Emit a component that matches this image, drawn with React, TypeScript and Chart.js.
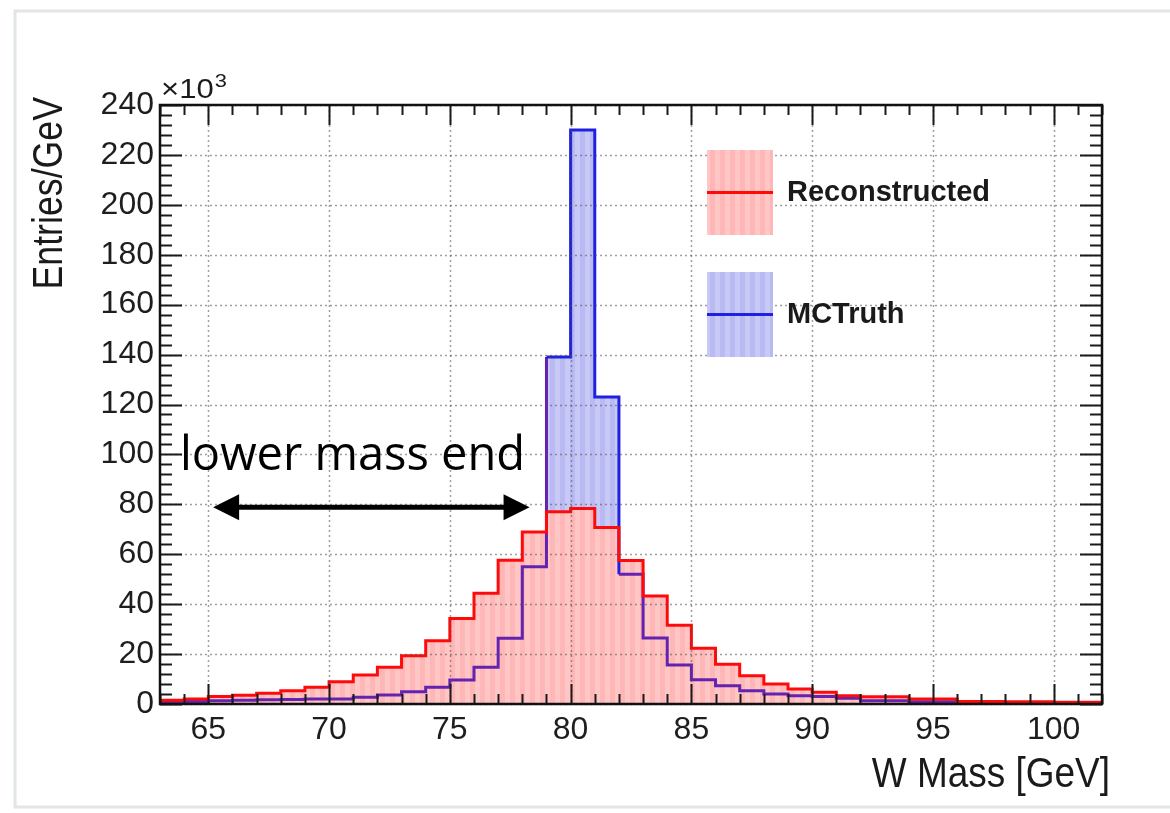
import React, { useEffect, useRef } from "react";
import { Chart, registerables } from "chart.js";

Chart.register(...registerables);

// Bin low edges in GeV (1 GeV bins), last entry is the upper edge of the last bin
const binEdges = [
  63, 64, 65, 66, 67, 68, 69, 70, 71, 72, 73, 74, 75, 76, 77, 78, 79, 80, 81, 82,
  83, 84, 85, 86, 87, 88, 89, 90, 91, 92, 93, 94, 95, 96, 97, 98, 99, 100, 101, 102,
];

// Entries/GeV in units of 10^3
const reconstructed = [
  1.5, 2, 3, 3.5, 4.3, 5.3, 6.7, 8.9, 11.6, 14.7, 19.3, 25.3, 34.3, 44.4, 57.6, 68.9,
  77, 78.3, 70.7, 57.5, 43.3, 31.6, 22.3, 15.9, 11.3, 8, 6, 4.7, 3.3, 2.9, 2.9, 2, 2,
  1, 1, 0.9, 0.9, 0.7, 0.7,
];

const mcTruth = [
  0.8, 1, 1.3, 1.5, 1.7, 1.8, 2, 2, 2.7, 3.6, 4.9, 6.7, 9.6, 14.7, 26.3, 55, 139, 230,
  123, 52, 26.4, 15.6, 9.7, 7.3, 5.3, 4, 3.3, 3, 2.3, 1.3, 1.3, 0.9, 0.9, 0.4, 0.4,
  0.4, 0.4, 0, 0,
];

const xTickValues = [65, 70, 75, 80, 85, 90, 95, 100];
const yTickValues = [0, 20, 40, 60, 80, 100, 120, 140, 160, 180, 200, 220, 240];

const seriesNames = ["Reconstructed", "MCTruth"];
const xTitle = "W Mass [GeV]";
const yTitle = "Entries/GeV";
const annotationText = "lower mass end";
const arrowFrom = [65.2, 78.8];
const arrowTo = [78.3, 78.8];

const RED = "#ff0a0a";
const BLUE = "#2020e0";
const PURPLE = "#6422b0";
const SANS = "'Liberation Sans', Arial, Helvetica, sans-serif";

function stepPoints(values: number[]) {
  const pts = values.map((v, i) => ({ x: binEdges[i], y: v }));
  pts.push({ x: binEdges[binEdges.length - 1], y: values[values.length - 1] });
  return pts;
}

function makeStripes(c1: string, c2: string, period: number) {
  const cv = document.createElement("canvas");
  cv.width = period;
  cv.height = 4;
  const g = cv.getContext("2d")!;
  g.fillStyle = c1;
  g.fillRect(0, 0, period, 4);
  g.fillStyle = c2;
  g.fillRect(0, 0, Math.round(period / 2), 4);
  return g.createPattern(cv, "repeat")!;
}

export default function App() {
  const ref = useRef<HTMLCanvasElement | null>(null);

  useEffect(() => {
    const canvas = ref.current;
    if (!canvas) return;
    const redPattern = makeStripes("#ffc6c6", "#ffb6b6", 10);
    const bluePattern = makeStripes("#c9c9f7", "#babaf3", 10);

    const decor = {
      id: "rootStyle",
      beforeDraw(chart: any) {
        const ctx = chart.ctx;
        ctx.save();
        ctx.fillStyle = "#ffffff";
        ctx.fillRect(0, 0, chart.width, chart.height);
        ctx.strokeStyle = "#e2e6e6";
        ctx.lineWidth = 3;
        ctx.strokeRect(15, 11, chart.width + 20, 796);
        ctx.restore();
      },
      afterDatasetsDraw(chart: any) {
        const ctx = chart.ctx;
        const a = chart.chartArea;
        const xs = chart.scales.x;
        const ys = chart.scales.y;
        ctx.save();
        // grid
        ctx.setLineDash([2, 3]);
        ctx.strokeStyle = "rgba(80,80,80,0.55)";
        ctx.lineWidth = 1.5;
        for (const v of xTickValues) {
          const px = Math.round(xs.getPixelForValue(v)) + 0.5;
          ctx.beginPath();
          ctx.moveTo(px, a.top);
          ctx.lineTo(px, a.bottom);
          ctx.stroke();
        }
        for (const v of yTickValues) {
          const py = Math.round(ys.getPixelForValue(v)) + 0.5;
          ctx.beginPath();
          ctx.moveTo(a.left, py);
          ctx.lineTo(a.right, py);
          ctx.stroke();
        }
        ctx.setLineDash([]);
        // ticks
        ctx.strokeStyle = "#1a1a1a";
        ctx.lineWidth = 2;
        const xMin = binEdges[0];
        const xMax = binEdges[binEdges.length - 1];
        for (let v = xMin; v <= xMax; v++) {
          const px = Math.round(xs.getPixelForValue(v)) + 0.5;
          const len = v % 5 === 0 ? 20 : 10;
          ctx.beginPath();
          ctx.moveTo(px, a.bottom);
          ctx.lineTo(px, a.bottom - len);
          ctx.moveTo(px, a.top);
          ctx.lineTo(px, a.top + len);
          ctx.stroke();
        }
        for (let v = 0; v <= 240; v += 4) {
          const py = Math.round(ys.getPixelForValue(v)) + 0.5;
          const len = v % 20 === 0 ? 22 : 12;
          ctx.beginPath();
          ctx.moveTo(a.left, py);
          ctx.lineTo(a.left + len, py);
          ctx.moveTo(a.right, py);
          ctx.lineTo(a.right - len, py);
          ctx.stroke();
        }
        // frame
        ctx.lineWidth = 2.5;
        ctx.strokeStyle = "#111";
        ctx.strokeRect(a.left, a.top, a.right - a.left, a.bottom - a.top);
        ctx.restore();
      },
      afterDraw(chart: any) {
        const ctx = chart.ctx;
        const a = chart.chartArea;
        const xs = chart.scales.x;
        const ys = chart.scales.y;
        ctx.save();
        ctx.fillStyle = "#1a1a1a";
        // y title
        ctx.save();
        ctx.translate(62, a.top - 8);
        ctx.rotate(-Math.PI / 2);
        ctx.font = `42px ${SANS}`;
        ctx.textAlign = "right";
        ctx.textBaseline = "alphabetic";
        ctx.scale(0.85, 1);
        ctx.fillText(yTitle, 0, 0);
        ctx.restore();
        // x title
        ctx.save();
        ctx.translate(a.right + 8, 787);
        ctx.font = `42px ${SANS}`;
        ctx.textAlign = "right";
        ctx.textBaseline = "alphabetic";
        ctx.scale(0.88, 1);
        ctx.fillText(xTitle, 0, 0);
        ctx.restore();
        // x10^3
        ctx.save();
        ctx.translate(a.left + 1, a.top - 7);
        ctx.scale(1.15, 1);
        ctx.font = `27px ${SANS}`;
        ctx.textAlign = "left";
        ctx.fillText("\u00d710", 0, 0);
        const w = ctx.measureText("\u00d710").width;
        ctx.font = `19px ${SANS}`;
        ctx.fillText("3", w + 1, -11);
        ctx.restore();
        // legend
        const entries = [
          { name: seriesNames[0], pat: redPattern, col: RED, top: 150 },
          { name: seriesNames[1], pat: bluePattern, col: BLUE, top: 272 },
        ];
        for (const e of entries) {
          ctx.fillStyle = e.pat;
          ctx.fillRect(707, e.top, 66, 85);
          ctx.strokeStyle = e.col;
          ctx.lineWidth = 3;
          ctx.beginPath();
          ctx.moveTo(707, e.top + 42.5);
          ctx.lineTo(773, e.top + 42.5);
          ctx.stroke();
          ctx.fillStyle = "#1a1a1a";
          ctx.font = `bold 29px ${SANS}`;
          ctx.textAlign = "left";
          ctx.textBaseline = "middle";
          ctx.fillText(e.name, 787, e.top + 43);
        }
        // annotation text
        ctx.save();
        ctx.font = `48px 'Open Sans', 'Noto Sans', sans-serif`;
        ctx.textAlign = "left";
        ctx.textBaseline = "alphabetic";
        const tw = ctx.measureText(annotationText).width;
        ctx.translate(180, 470);
        ctx.scale(345 / tw, 1);
        ctx.fillStyle = "#000";
        ctx.fillText(annotationText, 0, 0);
        ctx.restore();
        // arrow
        const x1 = xs.getPixelForValue(arrowFrom[0]);
        const x2 = xs.getPixelForValue(arrowTo[0]);
        const yA = ys.getPixelForValue(arrowFrom[1]);
        ctx.strokeStyle = "#000";
        ctx.fillStyle = "#000";
        ctx.lineWidth = 5;
        ctx.beginPath();
        ctx.moveTo(x1 + 20, yA);
        ctx.lineTo(x2 - 20, yA);
        ctx.stroke();
        ctx.beginPath();
        ctx.moveTo(x1, yA);
        ctx.lineTo(x1 + 26, yA - 13);
        ctx.lineTo(x1 + 26, yA + 13);
        ctx.closePath();
        ctx.fill();
        ctx.beginPath();
        ctx.moveTo(x2, yA);
        ctx.lineTo(x2 - 26, yA - 13);
        ctx.lineTo(x2 - 26, yA + 13);
        ctx.closePath();
        ctx.fill();
        ctx.restore();
      },
    };

    const redPts = stepPoints(reconstructed);
    const bluePts = stepPoints(mcTruth);

    const chart = new Chart(canvas, {
      type: "line",
      data: {
        datasets: [
          {
            label: seriesNames[0] + " fill",
            data: redPts,
            stepped: true,
            fill: "origin",
            backgroundColor: redPattern,
            borderWidth: 0,
            pointRadius: 0,
            order: 3,
          } as any,
          {
            label: seriesNames[1] + " fill",
            data: bluePts,
            stepped: true,
            fill: "origin",
            backgroundColor: bluePattern,
            borderWidth: 0,
            pointRadius: 0,
            order: 4,
          },
          {
            label: seriesNames[1],
            data: bluePts,
            stepped: true,
            fill: false,
            borderColor: BLUE,
            borderWidth: 3,
            pointRadius: 0,
            order: 2,
            segment: {
              borderColor: (c: any) =>
                mcTruth[c.p0DataIndex] > reconstructed[c.p0DataIndex] ? BLUE : PURPLE,
            },
          },
          {
            label: seriesNames[0],
            data: redPts,
            stepped: true,
            fill: false,
            borderColor: RED,
            borderWidth: 3,
            pointRadius: 0,
            order: 1,
          },
        ],
      },
      options: {
        animation: false,
        responsive: false,
        layout: { padding: { top: 105, right: 68, left: 0, bottom: 0 } },
        plugins: { legend: { display: false }, tooltip: { enabled: false } },
        scales: {
          x: {
            type: "linear",
            min: binEdges[0],
            max: binEdges[binEdges.length - 1],
            afterBuildTicks: (s: any) => {
              s.ticks = xTickValues.map((v) => ({ value: v }));
            },
            afterFit: (s: any) => {
              s.height = 109;
            },
            grid: { display: false, drawTicks: false },
            border: { display: false },
            ticks: {
              font: { family: SANS, size: 32 },
              color: "#1e1e1e",
              padding: 7,
              maxRotation: 0,
              autoSkip: false,
            },
          },
          y: {
            type: "linear",
            min: 0,
            max: 240,
            afterBuildTicks: (s: any) => {
              s.ticks = yTickValues.map((v) => ({ value: v }));
            },
            afterFit: (s: any) => {
              s.width = 160;
            },
            grid: { display: false, drawTicks: false },
            border: { display: false },
            ticks: {
              font: { family: SANS, size: 32 },
              color: "#1e1e1e",
              padding: 6,
              autoSkip: false,
            },
          },
        },
      },
      plugins: [decor],
    });
    return () => chart.destroy();
  }, []);

  return (
    <div style={{ position: "absolute", left: 0, top: 0, width: 1170, height: 813, background: "#fff" }}>
      <canvas ref={ref} width={1170} height={813} style={{ display: "block" }} />
    </div>
  );
}
